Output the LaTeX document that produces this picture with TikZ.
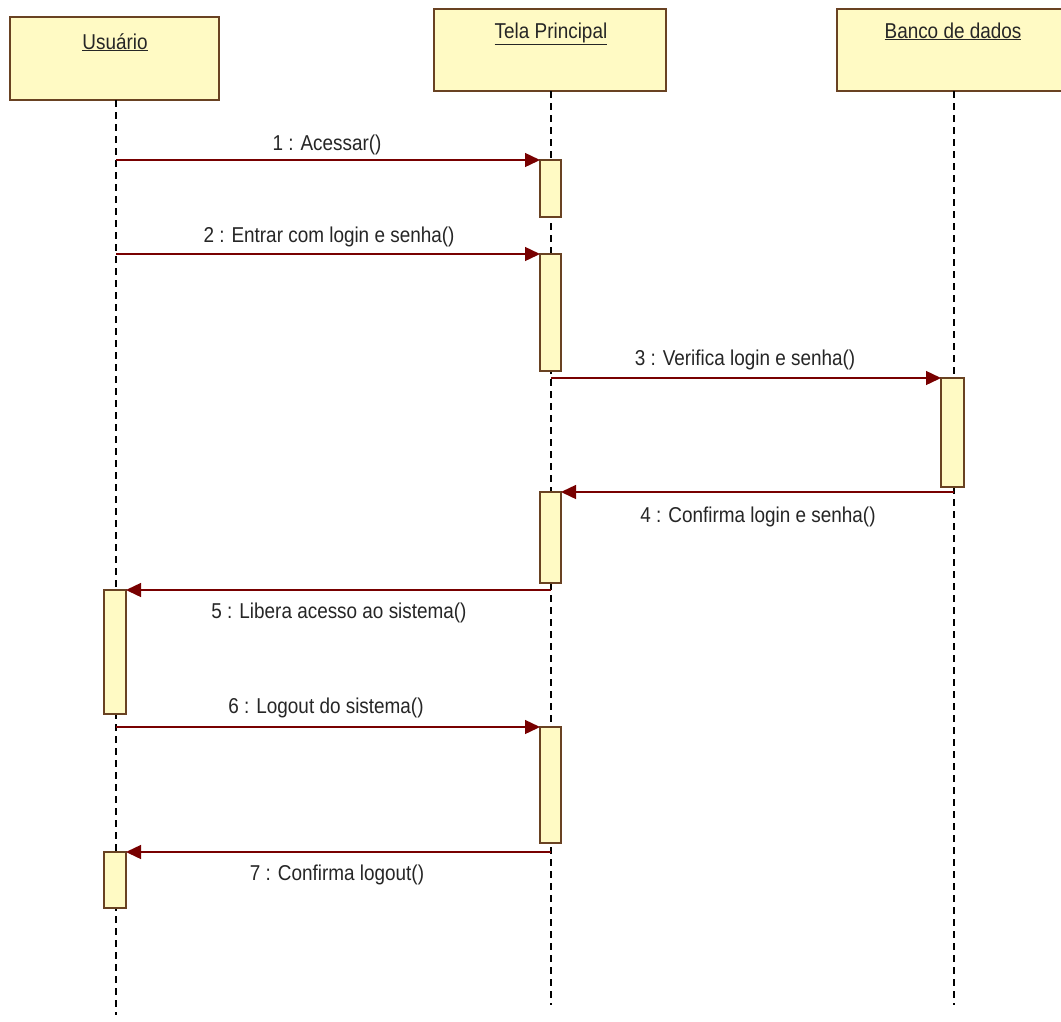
\documentclass[tikz,border=0pt]{standalone}
\usepackage{fontspec}
\setmainfont{Liberation Sans}
\newfontfamily\diafont[FakeStretch=0.88]{Liberation Sans}
\usetikzlibrary{arrows.meta}
\definecolor{boxfill}{RGB}{255,250,196}
\definecolor{boxdraw}{RGB}{105,66,34}
\definecolor{msgcol}{RGB}{120,0,0}
\begin{document}
\begin{tikzpicture}[x=1pt,y=-1pt,
  font=\diafont\fontsize{21.5}{24}\selectfont,
  head/.style={draw=boxdraw, fill=boxfill, line width=1.2pt, inner sep=0pt, outer sep=0pt, anchor=north west},
  actbox/.style={draw=boxdraw, fill=boxfill, line width=1.2pt, inner sep=0pt, outer sep=0pt, minimum width=21pt, anchor=north west},
  life/.style={black, line width=1.3pt, dash pattern=on 7pt off 5pt},
  message/.style={draw=msgcol, line width=1.4pt, -{Triangle[length=15pt,width=14pt]}},
  lab/.style={inner sep=0pt, text=black!85},
  headlab/.style={inner sep=0pt, text=black!85}]
\useasboundingbox (0,0) rectangle (1061,1021);
\fill[white] (0,0) rectangle (1061,1021);
% heads
\node[head, minimum width=209pt, minimum height=83pt] (hU) at (10,17) {};
\node[head, minimum width=232pt, minimum height=82pt] (hT) at (434,9) {};
\node[head, minimum width=240pt, minimum height=82pt] (hB) at (837,9) {};
\node[headlab, anchor=base] (tU) at (115,49) {\underline{Usuário}};
\node[headlab, anchor=base] (tT) at (551,38) {\underline{Tela Principal}};
\node[headlab, anchor=base] (tB) at (953,38) {\underline{Banco de dados}};
% lifeline ends
\coordinate (eU) at (116,1015);
\coordinate (eT) at (551,1005);
\coordinate (eB) at (954,1005);
\draw[life] (hU.south -| eU) -- (eU);
\draw[life] (hT.south -| eT) -- (eT);
\draw[life] (hB.south -| eB) -- (eB);
% activations
\node[actbox, minimum height=57pt] (a1) at (540,160) {};
\node[actbox, minimum height=117pt] (a2) at (540,254) {};
\node[actbox, minimum width=23pt, minimum height=109pt] (a4) at (941,378) {};
\node[actbox, minimum height=91pt] (a3) at (540,492) {};
\node[actbox, minimum width=22pt, minimum height=124pt] (u1) at (104,590) {};
\node[actbox, minimum height=116pt] (a5) at (540,727) {};
\node[actbox, minimum width=22pt, minimum height=56pt] (u2) at (104,852) {};
% message start points
\coordinate (s1) at (116,160);
\coordinate (s2) at (116,254);
\coordinate (s3) at (551,378);
\coordinate (s4) at (954,492);
\coordinate (s5) at (551,590);
\coordinate (s6) at (116,727);
\coordinate (s7) at (551,852);
\draw[message] (s1) -- (a1.north west);
\draw[message] (s2) -- (a2.north west);
\draw[message] (s3) -- (a4.north west);
\draw[message] (s4) -- (a3.north east);
\draw[message] (s5) -- (u1.north east);
\draw[message] (s6) -- (a5.north west);
\draw[message] (s7) -- (u2.north east);
% labels
\node[lab] (l1) at (327,145) {1 : Acessar()};
\node[lab] (l2) at (329,237) {2 : Entrar com login e senha()};
\node[lab] (l3) at (745,360) {3 : Verifica login e senha()};
\node[lab] (l4) at (758,517) {4 : Confirma login e senha()};
\node[lab] (l5) at (339,613) {5 : Libera acesso ao sistema()};
\node[lab] (l6) at (326,708) {6 : Logout do sistema()};
\node[lab] (l7) at (337,875) {7 : Confirma logout()};
\end{tikzpicture}
\end{document}
